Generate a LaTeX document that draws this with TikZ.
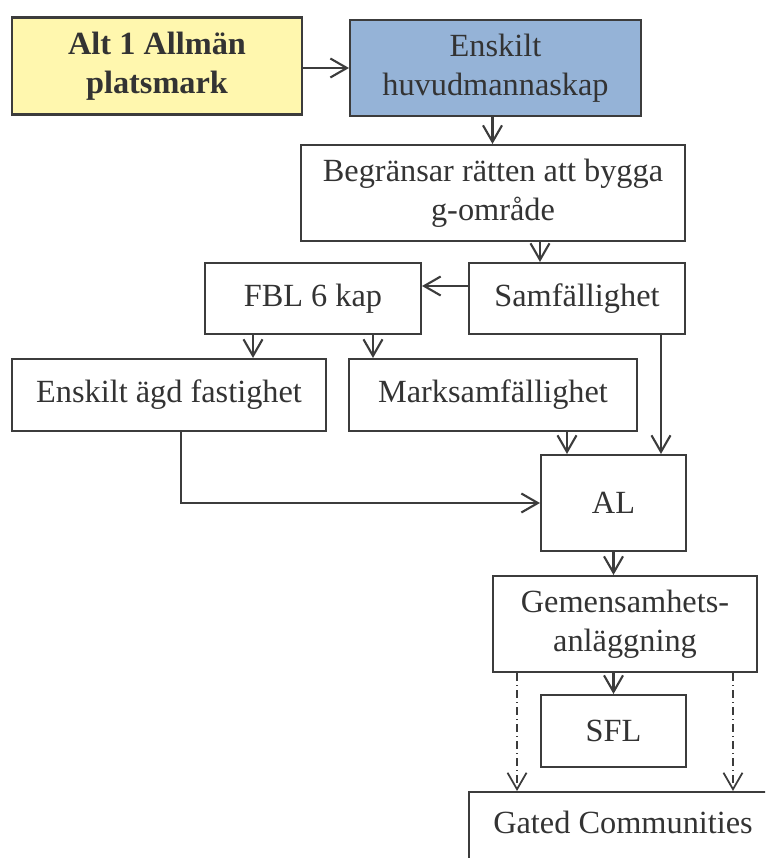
\documentclass[tikz,border=0pt]{standalone}
\usepackage{fontspec}
\setmainfont{Liberation Serif}
\usetikzlibrary{arrows.meta}
\definecolor{altyellow}{HTML}{FFF7AE}
\definecolor{huvudblue}{HTML}{95B3D7}
\definecolor{linegray}{HTML}{3C3C3C}
\definecolor{textgray}{HTML}{333333}

\begin{document}
\begin{tikzpicture}[x=0.02cm,y=-0.02cm,
        box/.style={draw=linegray,line width=1.2pt,align=center,inner sep=0pt,
            text=textgray,font=\fontsize{18.4}{22.2}\selectfont},
        arr/.style={-{Straight Barb[length=0.33cm,width=0.38cm]},draw=linegray,line width=1.2pt},
        dashdot/.style={arr,line width=1pt,dash pattern=on 0.16cm off 0.08cm on 0.02cm off 0.08cm}]
        \useasboundingbox (0,0) rectangle (765,858);
        \clip (0,0) rectangle (765,858);

        \node[box,fill=altyellow,minimum width=5.80cm,minimum height=1.94cm,
            font=\fontsize{18.4}{22.2}\selectfont\bfseries] (alt) at (157,66) {Alt 1 Allmän\\platsmark};
        \node[box,fill=huvudblue,minimum width=5.82cm,minimum height=1.92cm] (huvud) at (495.5,68) {Enskilt\\huvudmannaskap};
        \node[box,minimum width=7.68cm,minimum height=1.92cm] (begr) at (493,193) {Begränsar rätten att bygga\\g-område};
        \node[box,minimum width=4.32cm,minimum height=1.42cm] (fbl) at (313,298.5) {FBL 6 kap};
        \node[box,minimum width=4.32cm,minimum height=1.42cm] (samf) at (577,298.5) {Samfällighet};
        \node[box,minimum width=6.28cm,minimum height=1.44cm] (enskilt) at (169,395) {Enskilt ägd fastighet};
        \node[box,minimum width=5.76cm,minimum height=1.44cm] (marks) at (493,395) {Marksamfällighet};
        \node[box,minimum width=2.90cm,minimum height=1.92cm] (al) at (613.5,503) {AL};
        \node[box,minimum width=5.28cm,minimum height=1.92cm] (gem) at (625,624) {Gemensamhets-\\anläggning};
        \node[box,minimum width=2.90cm,minimum height=1.44cm] (sfl) at (613.5,731) {SFL};
        \node[box,anchor=north west,minimum width=6.16cm,inner ysep=0.37cm,
            text height=0.45cm,text depth=1.5cm] (gated) at (468,791) {Gated Communities};

        \draw[arr] ([yshift=-0.04cm]alt.east) -- ([yshift=-0.04cm]alt.east -| huvud.west);
        \draw[arr] ([xshift=-0.06cm]huvud.south) -- ([xshift=-0.06cm]huvud.south |- begr.north);
        \draw[arr] ([xshift=0.94cm]begr.south) -- ([xshift=0.94cm]begr.south |- samf.north);
        \draw[arr] ([yshift=0.25cm]samf.west) -- ([yshift=0.25cm]samf.west -| fbl.east);
        \draw[arr] ([xshift=-1.2cm]fbl.south) -- ([xshift=-1.2cm]fbl.south |- enskilt.north);
        \draw[arr] ([xshift=1.2cm]fbl.south) -- ([xshift=1.2cm]fbl.south |- marks.north);
        \draw[arr] ([xshift=1.68cm]samf.south) -- ([xshift=1.68cm]samf.south |- al.north);
        \draw[arr] ([xshift=1.48cm]marks.south) -- ([xshift=1.48cm]marks.south |- al.north);
        \draw[arr] ([xshift=0.24cm]enskilt.south) |- (al.west);
        \draw[arr] (al.south) -- (al.south |- gem.north);
        \draw[arr] (sfl.north |- gem.south) -- (sfl.north);
        \draw[dashdot] ([xshift=-2.16cm]gem.south) -- ([xshift=-2.16cm]gem.south |- gated.north);
        \draw[dashdot] ([xshift=2.16cm]gem.south) -- ([xshift=2.16cm]gem.south |- gated.north);
    \end{tikzpicture}
\end{document}
